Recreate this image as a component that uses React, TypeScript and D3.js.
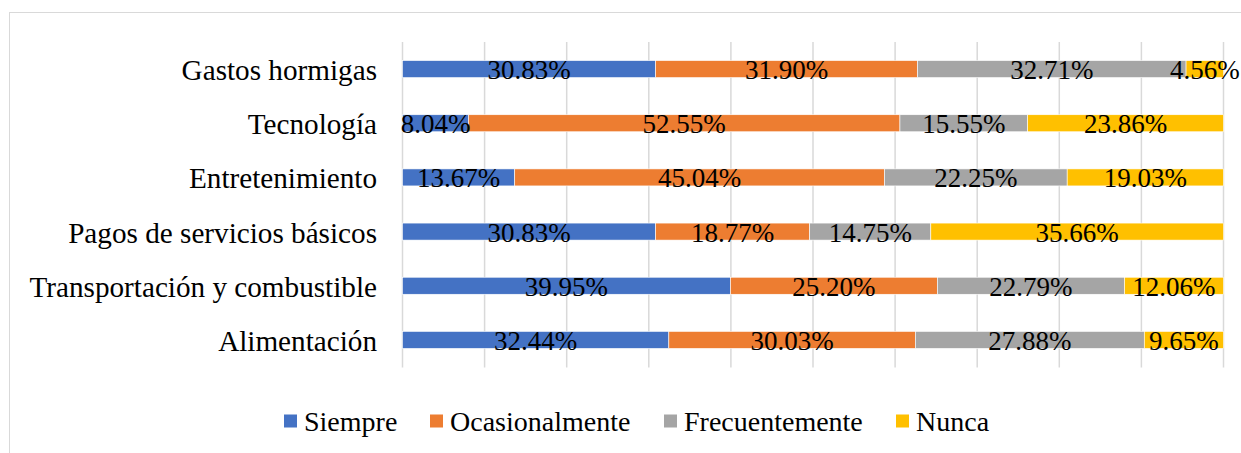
import React from "react";
import * as d3 from "d3";

const categories = [
  "Gastos hormigas",
  "Tecnología",
  "Entretenimiento",
  "Pagos de servicios básicos",
  "Transportación y combustible",
  "Alimentación",
];
const seriesNames = ["Siempre", "Ocasionalmente", "Frecuentemente", "Nunca"];
const siempre = [30.83, 8.04, 13.67, 30.83, 39.95, 32.44];
const ocasionalmente = [31.9, 52.55, 45.04, 18.77, 25.2, 30.03];
const frecuentemente = [32.71, 15.55, 22.25, 14.75, 22.79, 27.88];
const nunca = [4.56, 23.86, 19.03, 35.66, 12.06, 9.65];
const colors = ["#4472C4", "#ED7D31", "#A5A5A5", "#FFC000"];
const xTicks = [0, 10, 20, 30, 40, 50, 60, 70, 80, 90, 100];

const W = 1241;
const H = 453;
const FONT =
  '"Liberation Serif", Tinos, "Noto Serif", "DejaVu Serif", "Times New Roman", Times, serif';

export default function App() {
  const x = d3.scaleLinear().domain([0, 100]).range([402.5, 1223.5]);
  const y = d3
    .scaleBand<string>()
    .domain(categories)
    .range([42, 367])
    .paddingInner(0.686)
    .paddingOuter(0.343);

  const rows = categories.map((c, i) => ({
    cat: c,
    Siempre: siempre[i],
    Ocasionalmente: ocasionalmente[i],
    Frecuentemente: frecuentemente[i],
    Nunca: nunca[i],
  }));
  const stack = d3.stack<any>().keys(seriesNames)(rows);

  const legendX = [284, 430, 664, 896];
  const ts = { fontFamily: FONT };

  return (
    <svg
      width={W}
      height={H}
      style={{ position: "absolute", left: 0, top: 0, background: "#fff", fontFamily: FONT }}
    >
      <rect x={9.5} y={12.5} width={1240} height={450} fill="#fff" stroke="#d9d9d9" strokeWidth={1} />
      {xTicks.map((t) => (
        <line
          key={t}
          x1={x(t)}
          x2={x(t)}
          y1={42}
          y2={367.5}
          stroke="#d9d9d9"
          strokeWidth={1.5}
        />
      ))}
      {stack.map((s, si) =>
        s.map((d, i) => (
          <rect
            key={si + "-" + i}
            x={x(d[0])}
            y={y(categories[i])}
            width={x(d[1]) - x(d[0])}
            height={y.bandwidth()}
            fill={colors[si]}
            stroke="#fff"
            strokeWidth={0.6}
          />
        ))
      )}
      {stack.map((s, si) =>
        s.map((d, i) => (
          <text
            key={"t" + si + "-" + i}
            x={(x(d[0]) + x(d[1])) / 2}
            y={(y(categories[i]) as number) + y.bandwidth() / 2 + 1}
            textAnchor="middle"
            dominantBaseline="central"
            fontSize={27}
            fill="#000"
            style={ts}
          >
            {(d[1] - d[0]).toFixed(2)}%
          </text>
        ))
      )}
      {categories.map((c) => (
        <text
          key={c}
          x={377}
          y={(y(c) as number) + y.bandwidth() / 2 + 1}
          textAnchor="end"
          dominantBaseline="central"
          fontSize={29.2}
          fill="#000"
          style={ts}
        >
          {c}
        </text>
      ))}
      {seriesNames.map((n, i) => (
        <g key={n}>
          <rect x={legendX[i]} y={414.5} width={13} height={13} fill={colors[i]} />
          <text
            x={legendX[i] + 20}
            y={421.5}
            dominantBaseline="central"
            fontSize={28}
            fill="#000"
            style={ts}
          >
            {n}
          </text>
        </g>
      ))}
    </svg>
  );
}
